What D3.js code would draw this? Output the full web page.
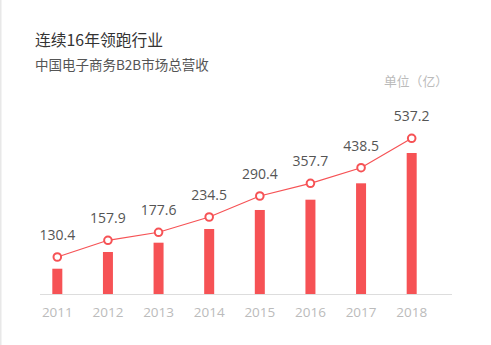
<!DOCTYPE html>
<html><head><meta charset="utf-8">
<script src="https://cdn.jsdelivr.net/npm/d3@7"></script>
<style>
html,body{margin:0;padding:0;background:#fff;}
svg{display:block;font-family:"Noto Sans CJK SC","Noto Sans",sans-serif;}
</style></head>
<body><svg id="c" width="491" height="345"></svg>
<script>
// ---- data ----
const years = ["2011","2012","2013","2014","2015","2016","2017","2018"];
const revenueLabels = [130.4, 157.9, 177.6, 234.5, 290.4, 357.7, 438.5, 537.2];
// plotted level of the line points (as drawn in the reference, estimated)
const lineLevels = [127.6, 185.2, 212.8, 265.5, 337.9, 381.7, 435.5, 536.9];
// plotted height of the bars (as drawn in the reference, estimated)
const barLevels = [87.2, 144.8, 176.9, 224.1, 289.7, 325.2, 381.7, 486.2];
const title = "连续16年领跑行业";
const subtitle = "中国电子商务B2B市场总营收";
const unitLabel = "单位（亿）";

const red = "#f65255";
const svg = d3.select("#c");

svg.append("rect").attr("x",0).attr("y",0).attr("width",1.5).attr("height",345).attr("fill","#e8e8e8");

const x = d3.scaleBand().domain(years).range([32, 437]).padding(0);
const y = d3.scaleLinear().domain([0, 600]).range([294, 120]);

svg.append("text").attr("x",35).attr("y",46).attr("font-size",15.8).attr("fill","#333").text(title);
svg.append("text").attr("x",35).attr("y",70).attr("font-size",13.5).attr("fill","#555").text(subtitle);
svg.append("text").attr("x",384).attr("y",86).attr("font-size",12.8).attr("fill","#bbb").text(unitLabel);

// bars
svg.selectAll("rect.bar").data(years).join("rect").attr("class","bar")
  .attr("x", d => x(d) + x.bandwidth()/2 - 5)
  .attr("width", 10)
  .attr("y", (d,i) => y(barLevels[i]))
  .attr("height", (d,i) => y(0) - y(barLevels[i]))
  .attr("fill", red);

// axis
const axis = svg.append("g").attr("transform","translate(0,294)")
  .call(d3.axisBottom(x).tickSize(0).tickPadding(13));
axis.select(".domain").attr("stroke","#ddd").attr("d","M40,0.5H452");
axis.selectAll("text").attr("font-size",13.5).attr("fill","#bbb")
  .attr("font-family","'Open Sans','Noto Sans',sans-serif");

// line
const cx = d => x(d) + x.bandwidth()/2;
const line = d3.line().x((d,i) => cx(years[i])).y(d => y(d));
svg.append("path").datum(lineLevels).attr("d", line)
  .attr("fill","none").attr("stroke",red).attr("stroke-width",1.2);

svg.selectAll("circle.pt").data(lineLevels).join("circle").attr("class","pt")
  .attr("cx",(d,i)=>cx(years[i])).attr("cy",d=>y(d)).attr("r",3.8)
  .attr("fill","#fff").attr("stroke",red).attr("stroke-width",2);

svg.selectAll("text.val").data(revenueLabels).join("text").attr("class","val")
  .attr("x",(d,i)=>cx(years[i])).attr("y",(d,i)=>y(lineLevels[i]) - 17)
  .attr("text-anchor","middle").attr("font-size",14).attr("fill","#555")
  .attr("font-family","'Open Sans','Noto Sans',sans-serif")
  .text(d => d3.format(".1f")(d));
</script></body></html>
